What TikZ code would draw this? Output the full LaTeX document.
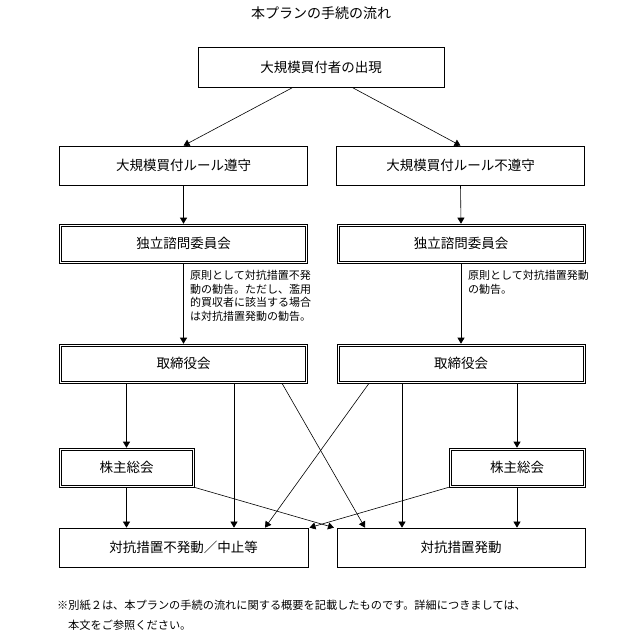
\documentclass[tikz,border=0pt]{standalone}
\usepackage{fontspec}
\setmainfont{Noto Sans CJK JP}
\usetikzlibrary{arrows.meta}
\begin{document}
\begin{tikzpicture}[x=1pt,y=-1pt,
  box/.style={draw,line width=0.7pt,inner sep=0pt,font=\fontsize{13.5}{15}\selectfont},
  dbox/.style={box,line width=0.6pt},
  arr/.style={line width=0.6pt,-{Triangle[width=7pt,length=6pt]}},
  note/.style={anchor=north west,align=left,inner sep=0pt,font=\fontsize{11}{13.6}\selectfont}]
\useasboundingbox (0,0) rectangle (627,634);
\node[font=\fontsize{14}{16}\selectfont] (title) at (321,13) {本プランの手続の流れ};
\node[box,minimum width=246pt,minimum height=40pt] (b1) at (321,67) {大規模買付者の出現};
\node[box,minimum width=248pt,minimum height=39pt] (b2l) at (183.5,165.5) {大規模買付ルール遵守};
\node[box,minimum width=248pt,minimum height=39pt] (b2r) at (460.5,165.5) {大規模買付ルール不遵守};
\node[dbox,minimum width=248pt,minimum height=39pt] (b3l) at (183.5,243.5) {独立諮問委員会};
\node[dbox,minimum width=248pt,minimum height=39pt] (b3r) at (461,243.5) {独立諮問委員会};
\node[dbox,minimum width=248pt,minimum height=39pt] (b4l) at (183.5,363.5) {取締役会};
\node[dbox,minimum width=248pt,minimum height=39pt] (b4r) at (461,363.5) {取締役会};
\node[dbox,minimum width=135pt,minimum height=39pt] (b5l) at (126.5,467.5) {株主総会};
\node[dbox,minimum width=136pt,minimum height=39pt] (b5r) at (517,467.5) {株主総会};
\node[box,minimum width=249pt,minimum height=39pt] (b6l) at (183.5,547.5) {対抗措置不発動／中止等};
\node[box,minimum width=248pt,minimum height=39pt] (b6r) at (461,547.5) {対抗措置発動};
\foreach \n in {b3l,b3r,b4l,b4r,b5l,b5r}
  \draw[line width=0.6pt] ([xshift=2.2pt,yshift=2.2pt]\n.south west) rectangle ([xshift=-2.2pt,yshift=-2.2pt]\n.north east);
\node[note] (n1) at (190,270) {原則として対抗措置不発\\動の勧告。ただし、濫用\\的買収者に該当する場合\\は対抗措置発動の勧告。};
\node[note] (n2) at (468,270) {原則として対抗措置発動\\の勧告。};
\node[anchor=north west,align=left,inner sep=0pt,font=\fontsize{11.2}{20}\selectfont] (foot) at (57,600) {※別紙２は、本プランの手続の流れに関する概要を記載したものです。詳細につきましては、\\\hspace*{11pt}本文をご参照ください。};
\draw[arr] ([xshift=-28pt]b1.south) -- (b2l.north);
\draw[arr] ([xshift=31pt]b1.south) -- (b2r.north);
\draw[arr] (b2l.south) -- (b3l.north);
\draw[arr] (b2r.south) -- (b3r.north);
\draw[arr] (b3l.south) -- (b4l.north);
\draw[arr] (b3r.south) -- (b4r.north);
\draw[arr] (b4l.south -| b5l.north) -- (b5l.north);
\draw[arr] ([xshift=50.5pt]b4l.south) -- ([xshift=50.5pt]b6l.north);
\draw[arr] ([xshift=98.5pt]b4l.south) -- ([xshift=-96pt]b6r.north);
\draw[arr] ([xshift=-92pt]b4r.south) -- ([xshift=81.5pt]b6l.north);
\draw[arr] ([xshift=-59pt]b4r.south) -- ([xshift=-59pt]b6r.north);
\draw[arr] (b4r.south -| b5r.north) -- (b5r.north);
\draw[arr] (b5l.south) -- (b5l.south |- b6l.north);
\draw[arr] (b5r.south) -- (b5r.south |- b6r.north);
\draw[arr] (b5l.south east) -- ([xshift=-127pt]b6r.north);
\draw[arr] (b5r.south west) -- ([xshift=126pt]b6l.north);
\end{tikzpicture}
\end{document}
